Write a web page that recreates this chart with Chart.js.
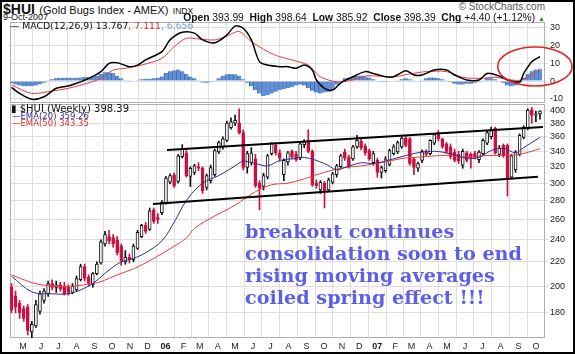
<!DOCTYPE html>
<html>
<head>
<meta charset="utf-8">
<script src="https://cdn.jsdelivr.net/npm/chart.js@4.4.0/dist/chart.umd.min.js"></script>
<style>
  body { margin: 0; background: #fff; }
  #wrap { position: relative; width: 575px; height: 354px; overflow: hidden; font-family: Arial, "Liberation Sans", sans-serif; color: #111; }
  #frame { position: absolute; left: 0; top: 0; width: 575px; height: 354px; box-sizing: border-box; border: 2px solid #000; pointer-events: none; }
  canvas { position: absolute; left: 0; }
  .t { position: absolute; white-space: nowrap; line-height: 1; }
  .lg { font-family: "DejaVu Sans", Verdana, sans-serif; }
  .note { position: absolute; left: 245px; top: 221px; font-family: "DejaVu Serif", serif; font-weight: bold; font-size: 19.2px; line-height: 22px; color: #5f5fe6; white-space: nowrap; }
</style>
</head>
<body>
<div id="wrap">
  <canvas id="macdChart" width="575" height="81" style="top:22px"></canvas>
  <canvas id="priceChart" width="575" height="250" style="top:104px"></canvas>

  <div class="t" style="left:3px;top:1px"><b style="font-size:14px">$HUI</b> <span style="font-size:11px">(Gold Bugs Index - AMEX)</span> <span style="font-size:8.5px">INDX</span></div>
  <div class="t" style="right:30px;top:2px;font-size:10px;color:#555">&copy; StockCharts.com</div>
  <div class="t" style="left:3px;top:13px;font-size:9px">9-Oct-2007</div>
  <div class="t" style="right:30px;top:13px;font-size:10.3px"><b>Open</b> 393.99 &nbsp;<b>High</b> 398.64 &nbsp;<b>Low</b> 385.92 &nbsp;<b>Close</b> 398.39 &nbsp;<b>Chg</b> +4.40 (+1.12%) <span style="color:#2a8a2a;font-size:7px">&#9650;</span></div>

  <div class="t lg" style="left:10px;top:21px;font-size:9.3px">&mdash; MACD(12,26,9) 13.767<span style="color:#e03030">, 7.111</span><span style="color:#6fa0d8">, 6.656</span></div>

  <div class="t lg" style="left:11px;top:104px;font-size:10px">&#9646; $HUI (Weekly) 398.39</div>
  <div class="t lg" style="left:12px;top:112px;font-size:8.5px;color:#2e2e8c">&mdash;EMA(20) 359.26</div>
  <div class="t lg" style="left:12px;top:119px;font-size:8.5px;color:#e03030">&mdash;EMA(50) 343.35</div>

  <div class="note">breakout continues<br>consolidation soon to end<br>rising moving averages<br>coiled spring effect !!!</div>
  <div id="frame"></div>
</div>

<script>
// weekly bars, week 0 = week of 11-Apr-2005
const weekStart = Date.UTC(2005, 3, 11);
const monthLabels = ['M', 'J', 'J', 'A', 'S', 'O', 'N', 'D', '06', 'F', 'M', 'A', 'M', 'J', 'J', 'A', 'S', 'O', 'N', 'D', '07', 'F', 'M', 'A', 'M', 'J', 'J', 'A', 'S', 'O'];
const priceTicks = [180, 200, 220, 240, 260, 280, 300, 320, 340, 360, 380, 400];
const macdTicks = [-10, 0, 10, 20, 30];

const opens = [199, 192, 187, 183, 184, 167, 171, 181, 189, 194, 202, 199, 201, 200, 199, 195, 197, 205, 216, 207,
  201, 210, 219, 236, 243, 242, 240, 234, 220, 224, 222, 232, 243, 254, 250, 270, 262, 267, 277, 301,
  310, 302, 333, 338, 308, 313, 320, 318, 295, 303, 310, 339, 346, 355, 373, 380, 380, 366, 319, 325,
  330, 300, 296, 307, 337, 348, 338, 310, 326, 340, 336, 331, 349, 355, 340, 300, 292, 300, 292, 301,
  310, 320, 339, 332, 330, 346, 354, 347, 341, 325, 328, 313, 315, 323, 337, 339, 346, 358, 357, 330,
  318, 328, 339, 337, 351, 366, 357, 350, 346, 339, 336, 322, 338, 336, 337, 329, 337, 351, 360, 372,
  336, 348, 348, 307, 316, 336, 359, 372, 400, 392, 393.99];
const highs = [202, 196, 189, 185, 186, 174, 189, 196, 198, 204, 205, 204, 203, 203, 201, 202, 208, 218, 218, 209,
  211, 220, 240, 248, 249, 245, 243, 236, 230, 227, 236, 249, 255, 257, 272, 272, 266, 280, 308, 311,
  312, 336, 349, 341, 320, 323, 325, 320, 311, 322, 343, 354, 360, 383, 388, 392, 402, 370, 340, 345,
  336, 303, 312, 336, 352, 352, 342, 330, 340, 342, 340, 352, 356, 370, 342, 304, 303, 302, 306, 313,
  323, 336, 343, 335, 348, 362, 357, 350, 343, 340, 331, 321, 333, 343, 349, 354, 361, 362, 359, 332,
  326, 342, 342, 356, 364, 369, 358, 352, 350, 343, 340, 343, 340, 338, 340, 341, 357, 368, 374, 374,
  348, 350, 350, 336, 341, 364, 376, 402, 404, 398, 398.64];
const lows = [180, 180, 176, 174, 165, 163, 170, 179, 187, 192, 197, 195, 196, 193, 193, 194, 196, 204, 204, 200,
  199, 209, 218, 234, 236, 233, 226, 217, 218, 219, 220, 231, 242, 246, 249, 256, 256, 265, 276, 299,
  295, 300, 331, 307, 296, 310, 315, 288, 292, 300, 308, 337, 343, 353, 371, 376, 364, 316, 312, 322,
  295, 270, 292, 305, 335, 335, 327, 303, 322, 330, 327, 329, 345, 338, 296, 294, 288, 272, 290, 299,
  307, 318, 328, 318, 328, 344, 342, 335, 328, 322, 307, 306, 313, 321, 335, 337, 344, 346, 322, 310,
  314, 325, 334, 335, 349, 354, 344, 337, 330, 326, 324, 318, 326, 318, 330, 325, 335, 349, 357, 336,
  333, 332, 285, 305, 313, 334, 357, 370, 380, 382, 385.92];
const closes = [182, 184, 180, 176, 168, 172, 186, 194, 196, 202, 199, 201, 198, 194, 195, 200, 206, 216, 206, 202,
  210, 218, 238, 245, 239, 236, 228, 221, 224, 222, 234, 247, 254, 248, 269, 258, 260, 278, 306, 309,
  297, 334, 343, 309, 318, 321, 318, 291, 309, 319, 341, 352, 357, 380, 382, 384, 366, 319, 337, 338,
  297, 294, 309, 334, 350, 338, 331, 328, 338, 333, 329, 350, 353, 340, 298, 297, 301, 290, 304, 311,
  321, 334, 331, 321, 346, 355, 345, 338, 330, 337, 313, 319, 330, 341, 346, 352, 358, 348, 324, 319,
  324, 340, 336, 355, 363, 357, 346, 340, 333, 328, 327, 340, 328, 332, 332, 339, 355, 366, 369, 338,
  344, 334, 306, 334, 339, 362, 374, 400, 392, 393.99, 398.39];

// moving averages (week, value)
const ema20Weeks = [0, 5, 10, 14, 17, 20, 24, 27, 30, 33, 37, 40, 43, 47, 51, 55, 57, 60, 63, 66, 69, 72, 77, 80, 82, 86, 89, 94, 99, 103, 107, 112, 115, 118, 121, 124, 126, 128, 130];
const ema20 = [208, 195.5, 194, 194, 197, 202, 213, 220, 223, 228, 239, 257, 280, 300, 309, 321, 327, 324, 321, 328, 330, 332, 324, 316, 319, 325, 324, 330, 337, 340, 338, 331, 332, 341, 344, 338, 345, 352, 359.26];
const ema50Weeks = [0, 5, 8, 14, 19, 22, 26, 30, 35, 40, 43, 45, 50, 55, 60, 64, 68, 72, 77, 82, 86, 91, 96, 102, 107, 112, 117, 121, 125, 130];
const ema50 = [209, 202.7, 200.7, 199.7, 201.6, 203.5, 209, 214, 223, 234, 241.5, 251, 263.5, 275, 290, 298, 300, 305, 313, 319, 321, 325, 330.5, 333, 334.5, 332, 334.5, 334.5, 336, 343.35];

// MACD panel
const macdWeeks = [0, 2, 5, 8, 11, 14, 16, 19, 22, 24, 26, 29, 31, 33, 37, 39, 42, 45, 47, 50, 53, 55, 57, 59, 61, 63, 66, 68, 70, 72, 74, 75, 77, 79, 81, 84, 87, 89, 92, 94, 97, 99, 101, 104, 107, 109, 112, 115, 117, 120, 122, 125, 126, 128, 130];
const macdLine = [-3.6, -7, -10.3, -8.9, -4.1, -2.8, -1.3, 1.5, 5.3, 10, 10.3, 8.1, 9, 11.9, 16.6, 23.2, 27.5, 27, 23.2, 21.6, 26, 31, 29.8, 23.2, 10.9, 9, 8.1, 8.1, 7.2, 9, 6.2, 0.6, -4.1, -5.1, -1, 2.4, 5.3, 4.3, 2.4, 2.4, 5.8, 3.4, 3.4, 6.2, 6.2, 3.4, 0.6, 0.6, 4.3, 2.8, 0.6, -0.4, 4.3, 10.9, 13.767];
const signalWeeks = [0, 5, 9, 14, 19, 22, 25, 28, 32, 37, 40, 43, 46, 50, 53, 56, 59, 63, 66, 69, 73, 76, 80, 84, 87, 90, 94, 98, 102, 107, 111, 115, 119, 123, 125, 127, 129, 130];
const signalLine = [-2.3, -7, -6, -4.1, -1, 1.5, 6.2, 7.2, 9, 12.8, 19.4, 24.1, 23.7, 23.2, 25.4, 27.9, 22.2, 16.6, 13.7, 11.9, 9, 2.4, -0.4, 0.6, 2.8, 2.8, 2.4, 4, 5.3, 5.3, 2.1, 1.5, 2.1, 0.6, 0.4, 2.1, 4.3, 7.111];
const histValues = [-1.3, -2, -2.5, -3, -3, -2.8, -2.5, -1.8, -1, 0.5, 1, 1.5, 1.7, 1.8, 1.8, 1.8, 1.8, 2, 2.2, 2.3,
  2.5, 3, 4, 5, 5, 4.5, 3, 1.5, 0.5, 0.2, -0.3, 0.5, 1, 1.3, 1.3, 1.5, 1.8, 2.5, 4.5, 5.5,
  6, 6.5, 5.5, 4, 2.5, 1.5, 0.5, -0.8, -1, -0.5, 0.5, 1.5, 3, 3.8, 4, 3.8, 3, 1, -1, -3,
  -5, -7, -8.5, -8, -7, -6, -5, -4.5, -4, -3.5, -2.5, -2, -2.5, -4, -5.5, -6.5, -7, -6.5, -6, -5,
  -2, 0.5, 1.5, 2, 2.5, 3, 3, 2.5, 2, 1, 0, -0.5, -0.5, -0.3, 0, 0.5, 1, 1.5, 1, 0.5,
  0, 0.5, 1.5, 2, 2, 1.5, 1, 0.5, -0.5, -1.5, -2, -2, -1.5, -1.5, -1, -0.5, 0.5, 1.5, 1.5, 1,
  0, -1, -2.5, -3, -2.5, -1, 2, 4, 5.5, 6.5, 6.656];

// hand drawn channel lines and ring (week, value)
const channelTopWeeks = [38.25, 130.75], channelTop = [341.7, 374.1];
const channelLowWeeks = [34.8, 129.5], channelLow = [276.3, 307.5];
const ringWeeks = [119.6, 137.9], ringValues = [-2.8, 19.2];

const monthTicks = monthLabels.map((lab, k) => ({
  value: (Date.UTC(2005, 4 + k, 1) - weekStart) / 6048e5,
  label: lab
}));

const pts = (xs, ys) => xs.map((x, k) => ({ x: x, y: ys[k] }));
const weeks = closes.map((c, i) => i);
const isUp = i => closes[i] >= opens[i];

function xAxis(showLabels) {
  return {
    type: 'linear', min: -0.37, max: 131.24, offset: false,
    afterBuildTicks: ax => { ax.ticks = monthTicks.map(t => ({ value: t.value })); },
    ticks: {
      display: showLabels, autoSkip: false, maxRotation: 0, padding: 3, color: '#222',
      callback: (v, idx) => monthTicks[idx].label,
      font: c => ({ family: 'Arial', size: 9, weight: /\d/.test(monthTicks[c.index] ? monthTicks[c.index].label : '') ? 'bold' : 'normal' })
    },
    grid: { color: '#dedede', drawTicks: false },
    border: { display: false },
    afterFit: ax => { ax.height = showLabels ? 16 : 0; ax.paddingLeft = 0; ax.paddingRight = 0; }
  };
}

function yAxis(extra) {
  return Object.assign({
    position: 'right',
    ticks: { padding: 2, color: '#222', autoSkip: false, font: { family: 'Arial', size: 9 }, callback: v => String(v) },
    grid: { color: '#dedede', tickLength: 3 },
    border: { display: false },
    afterFit: ax => { ax.width = 30; ax.paddingTop = 0; ax.paddingBottom = 0; }
  }, extra);
}

const framePlugin = {
  id: 'frame',
  beforeDatasetsDraw(chart) {
    const a = chart.chartArea, ctx = chart.ctx;
    ctx.save();
    ctx.strokeStyle = '#b0b0b0';
    ctx.lineWidth = 1;
    ctx.strokeRect(a.left + 0.5, a.top + 0.5, a.right - a.left - 1, a.bottom - a.top - 1);
    ctx.restore();
  }
};

const ringPlugin = {
  id: 'ring',
  afterDraw(chart) {
    const x = chart.scales.x, y = chart.scales.y, ctx = chart.ctx;
    const x0 = x.getPixelForValue(ringWeeks[0]), x1 = x.getPixelForValue(ringWeeks[1]);
    const y0 = y.getPixelForValue(ringValues[1]), y1 = y.getPixelForValue(ringValues[0]);
    ctx.save();
    ctx.strokeStyle = '#e02525';
    ctx.lineWidth = 1.6;
    ctx.beginPath();
    ctx.ellipse((x0 + x1) / 2, (y0 + y1) / 2, (x1 - x0) / 2, (y1 - y0) / 2, 0, 0, Math.PI * 2);
    ctx.stroke();
    ctx.restore();
  }
};

const common = {
  responsive: false,
  animation: false,
  events: [],
  plugins: { legend: { display: false }, tooltip: { enabled: false } },
  layout: { padding: { left: 10, right: 0, top: 0, bottom: 0 } }
};

// MACD
new Chart(document.getElementById('macdChart'), {
  type: 'bar',
  data: {
    datasets: [
      {
        type: 'bar', data: pts(weeks, histValues), grouped: false, barThickness: 4.1,
        backgroundColor: '#5f90d8', borderColor: '#3a68ad', borderWidth: { left: 1, right: 0, top: 0, bottom: 0 }, borderSkipped: false, order: 3
      },
      { type: 'line', data: pts(signalWeeks, signalLine), borderColor: '#ee3a3a', borderWidth: 1, pointRadius: 0, tension: 0.3, order: 2 },
      { type: 'line', data: pts(macdWeeks, macdLine), borderColor: '#000', borderWidth: 1.5, pointRadius: 0, tension: 0.3, order: 1 }
    ]
  },
  options: Object.assign({}, common, {
    scales: {
      x: xAxis(false),
      y: yAxis({
        type: 'linear', min: -12.4, max: 33.3,
        afterBuildTicks: ax => { ax.ticks = macdTicks.map(v => ({ value: v })); }
      })
    }
  }),
  plugins: [framePlugin, ringPlugin]
});

// price
new Chart(document.getElementById('priceChart'), {
  type: 'bar',
  data: {
    datasets: [
      {
        type: 'bar', grouped: false, barThickness: 1, order: 5,
        data: weeks.map(i => ({ x: i, y: [lows[i], highs[i]] })),
        backgroundColor: weeks.map(i => isUp(i) ? '#111' : '#cc1040')
      },
      {
        type: 'bar', grouped: false, barThickness: 3, order: 4, borderSkipped: false, borderWidth: 1,
        data: weeks.map(i => ({ x: i, y: [opens[i], closes[i]] })),
        backgroundColor: weeks.map(i => isUp(i) ? '#fff' : '#cc1040'),
        borderColor: weeks.map(i => isUp(i) ? '#111' : '#cc1040')
      },
      { type: 'line', data: pts(ema50Weeks, ema50), borderColor: '#ee3b3b', borderWidth: 1, pointRadius: 0, tension: 0.35, order: 3 },
      { type: 'line', data: pts(ema20Weeks, ema20), borderColor: '#2e2e8c', borderWidth: 1, pointRadius: 0, tension: 0.35, order: 2 },
      { type: 'line', data: pts(channelTopWeeks, channelTop), borderColor: '#000', borderWidth: 2, pointRadius: 0, order: 1 },
      { type: 'line', data: pts(channelLowWeeks, channelLow), borderColor: '#000', borderWidth: 2, pointRadius: 0, order: 1 }
    ]
  },
  options: Object.assign({}, common, {
    scales: {
      x: xAxis(true),
      y: yAxis({
        type: 'logarithmic', min: 163, max: 409.6,
        afterBuildTicks: ax => { ax.ticks = priceTicks.map(v => ({ value: v })); }
      })
    }
  }),
  plugins: [framePlugin]
});
</script>
</body>
</html>
